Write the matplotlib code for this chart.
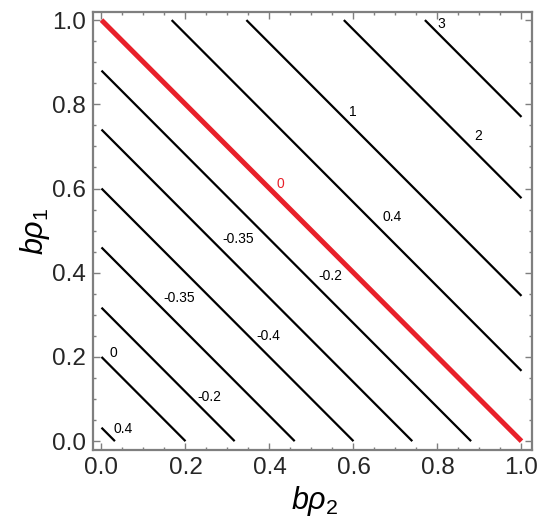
import numpy as np
import matplotlib.pyplot as plt
from matplotlib.ticker import MultipleLocator, FormatStrFormatter

plt.rcParams['font.family'] = ['Liberation Sans', 'DejaVu Sans']
plt.rcParams['mathtext.fontset'] = 'custom'
plt.rcParams['mathtext.rm'] = 'Liberation Sans'
plt.rcParams['mathtext.it'] = 'Liberation Sans:italic'

# contour levels of b*rho1 + b*rho2, and the value printed on each line
sum_levels = [0.032, 0.2, 0.317, 0.46, 0.6, 0.74, 0.88, 1.0, 1.167, 1.345, 1.577, 1.77]
level_labels = ["0.4", "0", "-0.2", "-0.35", "-0.4", "-0.35", "-0.2", "0", "0.4", "1", "2", "3"]
# where each label sits (b*rho2, b*rho1)
label_pos = [(0.052, 0.03), (0.028, 0.21), (0.256, 0.105), (0.184, 0.34),
             (0.397, 0.249), (0.325, 0.48), (0.544, 0.392), (0.427, 0.61),
             (0.691, 0.533), (0.598, 0.781), (0.896, 0.724), (0.808, 0.99)]

red = '#e8202a'
gray = '#7f7f7f'

x = np.linspace(0, 1, 401)
X, Y = np.meshgrid(x, x)
Z = X + Y

fig = plt.figure(figsize=(5.5, 5.27), dpi=100)
ax = fig.add_axes([0.1685, 0.1461, 0.798, 0.831])

colors = [red if lv == 1.0 else 'black' for lv in sum_levels]
widths = [3.6 if lv == 1.0 else 1.6 for lv in sum_levels]
ax.contour(X, Y, Z, levels=sum_levels, colors=colors, linewidths=widths)

for (px, py), lab, lv in zip(label_pos, level_labels, sum_levels):
    ax.text(px, py, lab, fontsize=10, ha='center', va='center',
            color=red if lv == 1.0 else 'black')

ax.set_xlim(-0.021, 1.024)
ax.set_ylim(-0.021, 1.019)

for sp in ax.spines.values():
    sp.set_color(gray)
    sp.set_linewidth(1.6)

ax.xaxis.set_major_locator(MultipleLocator(0.2))
ax.yaxis.set_major_locator(MultipleLocator(0.2))
ax.xaxis.set_minor_locator(MultipleLocator(0.05))
ax.yaxis.set_minor_locator(MultipleLocator(0.05))
ax.xaxis.set_major_formatter(FormatStrFormatter('%.1f'))
ax.yaxis.set_major_formatter(FormatStrFormatter('%.1f'))
ax.tick_params(which='both', direction='in', top=True, right=True,
               color=gray, width=1.0, labelsize=17.5, labelcolor='#262626')
ax.tick_params(which='major', length=5, pad=5)
ax.tick_params(which='minor', length=2.5)

ax.set_xlabel(r'$b\rho_{\mathit{2}}$', fontsize=22)
ax.set_ylabel(r'$b\rho_{\mathit{1}}$', fontsize=22)
ax.xaxis.set_label_coords(0.506, -0.078)
ax.yaxis.set_label_coords(-0.092, 0.5)

fig.savefig('out.png', dpi=100)
